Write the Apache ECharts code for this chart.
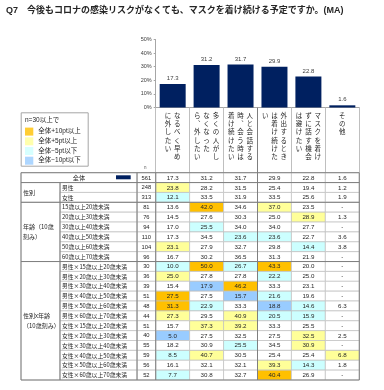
<!DOCTYPE html>
<html><head><meta charset="utf-8">
<script src="https://cdn.jsdelivr.net/npm/echarts@6/dist/echarts.min.js"></script>
<style>html,body{margin:0;padding:0;background:#fff}#c{width:384px;height:390px}</style>
</head><body><div id="c"></div>
<script>
// ---------- data ----------
const titleText = 'Q7　今後もコロナの感染リスクがなくても、マスクを着け続ける予定ですか。(MA)';
const categories = [
  'なるべく早めに外したい',
  '多くの人がしなくなったら、外したい',
  '人と会話する時、会う時は着け続けたい',
  '外出するときは着け続けたい',
  'マスクを着けずに話す機会は避けたい',
  'その他'
];
// vertical (tategaki) wrapping of the category labels, read right-to-left
const headerColumns = [
  ['なるべく早め', 'に外したい'],
  ['多くの人がし', 'なくなった', 'ら︑外したい'],
  ['人と会話する', '時︑会う時は', '着け続けたい'],
  ['外出するとき', 'は着け続けた', 'い'],
  ['マスクを着け', 'ずに話す機会', 'は避けたい'],
  ['その他']
];
const barValues = [17.3, 31.2, 31.7, 29.9, 22.8, 1.6];
const yTicks = [0, 10, 20, 30, 40, 50];

const rowLabels = [
  '全体', '男性', '女性',
  '15歳以上20歳未満', '20歳以上30歳未満', '30歳以上40歳未満',
  '40歳以上50歳未満', '50歳以上60歳未満', '60歳以上70歳未満',
  '男性×15歳以上20歳未満', '男性×20歳以上30歳未満', '男性×30歳以上40歳未満',
  '男性×40歳以上50歳未満', '男性×50歳以上60歳未満', '男性×60歳以上70歳未満',
  '女性×15歳以上20歳未満', '女性×20歳以上30歳未満', '女性×30歳以上40歳未満',
  '女性×40歳以上50歳未満', '女性×50歳以上60歳未満', '女性×60歳以上70歳未満'
];
const rowN = [561, 248, 313, 81, 76, 94, 110, 104, 96, 30, 36, 39, 51, 48, 44, 51, 40, 55, 59, 56, 52];
const rowGroups = [
  { from: 1, to: 2, lines: ['性別'] },
  { from: 3, to: 8, lines: ['年齢（10歳', '刻み）'] },
  { from: 9, to: 20, lines: ['性別x年齢', '（10歳刻み）'] }
];
const colEarly  = [17.3,23.8,12.1,13.6,14.5,17.0,17.3,23.1,16.7,10.0,25.0,15.4,27.5,31.3,27.3,15.7,5.0,18.2,8.5,16.1,7.7];
const colOthers = [31.2,28.2,33.5,42.0,27.6,25.5,34.5,27.9,30.2,50.0,27.8,17.9,27.5,22.9,29.5,37.3,27.5,30.9,40.7,32.1,30.8];
const colTalk   = [31.7,31.5,31.9,34.6,30.3,34.0,23.6,32.7,36.5,26.7,27.8,46.2,15.7,33.3,40.9,39.2,32.5,25.5,30.5,32.1,32.7];
const colOut    = [29.9,25.4,33.5,37.0,25.0,34.0,23.6,29.8,31.3,43.3,22.2,33.3,21.6,18.8,20.5,33.3,27.5,34.5,25.4,39.3,40.4];
const colAvoid  = [22.8,19.4,25.6,23.5,28.9,27.7,22.7,14.4,21.9,20.0,25.0,23.1,19.6,14.6,15.9,25.5,32.5,30.9,25.4,14.3,26.9];
const colOther  = [1.6,1.2,1.9,null,1.3,null,3.6,3.8,null,null,null,null,null,6.3,null,null,2.5,null,6.8,1.8,null];
// highlight per row, per column: G=+10pt, Y=+5pt, C=-5pt, B=-10pt, -=none
const highlightCodes = [
  '------','Y-----','C-----',
  '-G-Y--','----Y-','-C----','--CC--','Y---C-','------',
  'CGCG--','Y--C--','-BG---','G-BC--','GC-BC-','Y-YCC-',
  '-YY---','B---Y-','--C-Y-','CY---Y','---YC-','C--G--'
];
const legendTitle = 'n=30以上で';
const legendItems = [
  { code: 'G', name: '全体+10pt以上' },
  { code: 'Y', name: '全体+5pt以上' },
  { code: 'C', name: '全体−5pt以下' },
  { code: 'B', name: '全体−10pt以下' }
];

// ---------- style / layout ----------
const tableColumns = [colEarly, colOthers, colTalk, colOut, colAvoid, colOther];
const hlColor = { G: '#FFC000', Y: '#FFFF99', C: '#CCFFFF', B: '#99CCFF' };
const BAR_COLOR = '#002060';
const FONT = "'Liberation Sans', 'Noto Sans CJK JP', sans-serif";
const JFONT = "'Noto Sans CJK JP', sans-serif";
const TXT = '#262626';
const LIGHT = '#BFBFBF';
const DARK = '#7F7F7F';
const NCOL_W = 18.7, LABEL_W = 77, GROUP_W = 39;
const HEADER_H = 65.2;

function txt(t, x, y, align, size, font) {
  return { type: 'text', style: { text: String(t), x: x, y: y, textAlign: align, textVerticalAlign: 'middle',
    align: align, verticalAlign: 'middle', fill: TXT, fontSize: size, fontFamily: font || FONT } };
}
function box(x, y, w, h, fill) {
  return { type: 'rect', shape: { x: x, y: y, width: w, height: h },
    style: { fill: fill || '#fff', stroke: LIGHT, lineWidth: 0.7 } };
}
function line(x1, y1, x2, y2) {
  return { type: 'line', shape: { x1: x1, y1: y1, x2: x2, y2: y2 }, style: { stroke: DARK, lineWidth: 1 } };
}

function cellRender(params, api) {
  const c = api.value(0), r = api.value(1);
  const p = api.coord([c, r]);
  const s = api.size([1, 1]);
  const v = tableColumns[c][r];
  const code = highlightCodes[r][c];
  return { type: 'group', children: [
    box(p[0] - s[0] / 2, p[1] - s[1] / 2, s[0], s[1], hlColor[code]),
    txt(v == null ? '-' : v.toFixed(1), p[0], p[1] + 0.3, 'center', 6.2)
  ]};
}

function labelRender(params, api) {
  const r = api.value(1);
  const p = api.coord([0, r]);
  const s = api.size([1, 1]);
  const left = p[0] - s[0] / 2, top = p[1] - s[1] / 2, h = s[1];
  const nX = left - NCOL_W, labX = nX - LABEL_W, grpX = labX - GROUP_W;
  const ch = [];
  ch.push(box(nX, top, NCOL_W, h));
  ch.push(txt(rowN[r], nX + NCOL_W / 2, p[1] + 0.3, 'center', 5.8));
  if (r === 0) {
    ch.push(box(grpX, top, GROUP_W + LABEL_W, h));
    ch.push(txt(rowLabels[0], grpX + (GROUP_W + LABEL_W) / 2, p[1], 'center', 6.2, JFONT));
    ch.push({ type: 'rect', shape: { x: nX - 6.3 - 14.7, y: top + 2.6, width: 14.7, height: 4 }, style: { fill: BAR_COLOR } });
  } else {
    ch.push(box(labX, top, LABEL_W, h));
    ch.push(txt(rowLabels[r], labX + 2, p[1], 'left', 5.8, JFONT));
    const g = rowGroups.find(function (g) { return g.from === r; });
    if (g) {
      const span = g.to - g.from + 1;
      ch.push(box(grpX, top, GROUP_W, h * span));
      const t = txt(g.lines.join('\n'), grpX + 2, top + h * span / 2, 'left', 6, JFONT);
      t.style.lineHeight = 10;
      ch.push(t);
    }
  }
  return { type: 'group', children: ch };
}

function frameRender(params, api) {
  const p = api.coord([0, 0]);
  const s = api.size([1, 1]);
  const W = s[0], H = s[1];
  const L = p[0] - W / 2, T = p[1] - H / 2;
  const R = L + 6 * W, B = T + rowLabels.length * H;
  const X0 = L - NCOL_W - LABEL_W - GROUP_W;
  return { type: 'group', children: [
    { type: 'rect', shape: { x: X0, y: T, width: R - X0, height: B - T }, style: { fill: 'none', stroke: DARK, lineWidth: 1 } },
    line(X0, T + H, R, T + H),
    line(X0, T + 3 * H, R, T + 3 * H),
    line(X0, T + 9 * H, R, T + 9 * H),
    line(L, T, L, B),
    line(L - NCOL_W, T, L - NCOL_W, B),
    line(L - NCOL_W - LABEL_W, T + H, L - NCOL_W - LABEL_W, B),
    line(L + 3 * W, T - HEADER_H, L + 3 * W, B)
  ]};
}

const cellData = [];
tableColumns.forEach(function (col, c) { col.forEach(function (v, r) { cellData.push([c, r]); }); });

const option = {
  animation: false,
  title: { text: titleText, left: 6, top: 6, padding: 0,
    textStyle: { fontSize: 9, fontWeight: 'bold', color: TXT, fontFamily: FONT } },
  legend: {
    orient: 'vertical', left: 25, top: 127.6, padding: 0,
    itemWidth: 8.3, itemHeight: 8, itemGap: 1.7, selectedMode: false,
    textStyle: { fontSize: 6.5, lineHeight: 8, color: TXT, fontFamily: FONT },
    data: legendItems.map(function (d) { return { name: d.name, icon: 'rect' }; })
  },
  graphic: [
    { type: 'rect', left: 20.7, top: 112.3, shape: { width: 67, height: 53.4 },
      style: { fill: '#fff', stroke: '#A6A6A6', lineWidth: 1 } },
    { type: 'text', left: 25, top: 116.5, style: { text: legendTitle, fontSize: 6.5, fill: TXT, fontFamily: FONT } },
    { type: 'text', left: 144, top: 166, style: { text: 'n', fontSize: 4.5, fill: '#595959', fontFamily: FONT } }
  ],
  grid: [
    { left: 155.7, top: 39.5, width: 203.6, height: 68 },
    { left: 155.7, top: 172.7, width: 203.6, height: 207.3 }
  ],
  xAxis: [
    { type: 'category', gridIndex: 0, data: categories,
      axisLine: { lineStyle: { color: '#A6A6A6' } },
      axisTick: { show: true, interval: 0, length: HEADER_H, lineStyle: { color: '#BFBFBF' } },
      axisLabel: {
        interval: 0, margin: 3.5,
        formatter: function (v, i) {
          const cols = headerColumns[i].map(function (s) { return Array.from(s); }).reverse();
          const n = Math.max.apply(null, cols.map(function (c) { return c.length; }));
          const lines = [];
          for (let k = 0; k < n; k++) {
            lines.push(cols.map(function (c) { return '{c|' + (c[k] || '　') + '}'; }).join(''));
          }
          return lines.join('\n');
        },
        rich: { c: { width: 9.3, align: 'center', fontSize: 6.5, lineHeight: 8.3, fontFamily: JFONT, color: TXT } }
      }
    },
    { type: 'category', gridIndex: 1, data: [0, 1, 2, 3, 4, 5], show: false }
  ],
  yAxis: [
    { type: 'value', gridIndex: 0, min: yTicks[0], max: yTicks[yTicks.length - 1], interval: yTicks[1] - yTicks[0],
      axisLine: { show: true, lineStyle: { color: '#A6A6A6' } },
      axisTick: { show: true, length: 2, lineStyle: { color: '#A6A6A6' } },
      splitLine: { show: false },
      axisLabel: { formatter: '{value}%', fontSize: 5.5, color: '#404040', margin: 4, fontFamily: FONT } },
    { type: 'category', gridIndex: 1, data: rowLabels, inverse: true, show: false }
  ],
  series: [
    { type: 'bar', xAxisIndex: 0, yAxisIndex: 0, data: barValues, barWidth: 26,
      itemStyle: { color: BAR_COLOR },
      label: { show: true, position: 'top', distance: 2.5, fontSize: 6, color: '#404040', fontFamily: FONT,
        formatter: function (p) { return p.value.toFixed(1); } } },
    { type: 'custom', xAxisIndex: 1, yAxisIndex: 1, renderItem: cellRender, data: cellData, z: 2 },
    { type: 'custom', xAxisIndex: 1, yAxisIndex: 1, renderItem: labelRender,
      data: rowLabels.map(function (_, r) { return [0, r]; }), z: 2 },
    { type: 'custom', xAxisIndex: 1, yAxisIndex: 1, renderItem: frameRender, data: [[0, 0]], z: 3, silent: true }
  ].concat(legendItems.map(function (d) {
    return { type: 'scatter', name: d.name, xAxisIndex: 1, yAxisIndex: 1, data: [], itemStyle: { color: hlColor[d.code] } };
  }))
};

const chart = echarts.init(document.getElementById('c'), null, { renderer: 'canvas' });
chart.setOption(option);
</script>
</body></html>
